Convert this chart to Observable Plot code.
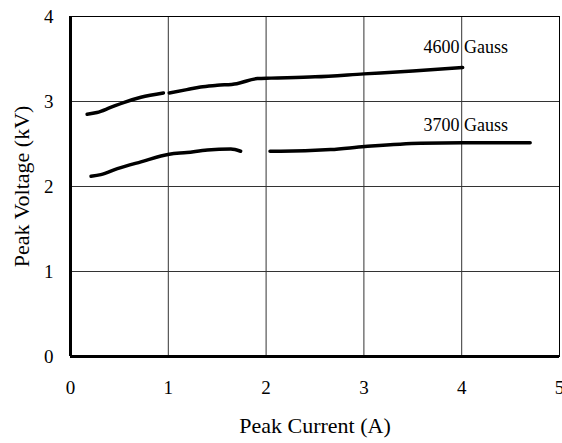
<!DOCTYPE html>
<html>
<head>
<meta charset="utf-8">
<script src="https://cdn.jsdelivr.net/npm/d3@7"></script>
<script src="https://cdn.jsdelivr.net/npm/@observablehq/plot@0.6"></script>
<style>
  html, body { margin: 0; padding: 0; background: #fff; }
</style>
</head>
<body>
<div id="chart"></div>
<script>
// 4600 Gauss curve (two segments with a gap)
const x4600a = [0.17, 0.27, 0.41, 0.55, 0.72, 0.95];
const y4600a = [2.85, 2.87, 2.93, 2.99, 3.05, 3.10];
const x4600b = [1.01, 1.19, 1.33, 1.50, 1.70, 1.91, 2.05, 2.50, 3.00, 3.50, 4.01];
const y4600b = [3.10, 3.14, 3.17, 3.19, 3.21, 3.27, 3.275, 3.29, 3.325, 3.36, 3.40];
// 3700 Gauss curve (two segments with a gap)
const x3700a = [0.21, 0.31, 0.48, 0.72, 1.01, 1.19, 1.40, 1.64, 1.74];
const y3700a = [2.12, 2.14, 2.21, 2.29, 2.38, 2.40, 2.43, 2.44, 2.415];
const x3700b = [2.04, 2.15, 2.66, 3.01, 3.58, 4.01, 4.70];
const y3700b = [2.415, 2.415, 2.435, 2.47, 2.51, 2.515, 2.515];

const labels = ["4600 Gauss", "3700 Gauss"];
const labelX = [3.61, 3.61];
const labelY = [3.64, 2.72];

const xTicks = [0, 1, 2, 3, 4, 5];
const yTicks = [0, 1, 2, 3, 4];

const segs = [
  ["4600a", x4600a, y4600a],
  ["4600b", x4600b, y4600b],
  ["3700a", x3700a, y3700a],
  ["3700b", x3700b, y3700b]
];
const rows = segs.flatMap(([s, xs, ys]) => xs.map((x, i) => ({seg: s, x, y: ys[i]})));
const labelRows = labels.map((t, i) => ({t, x: labelX[i], y: labelY[i]}));
const fmt = d3.format("d");
const FONT = "Liberation Serif";

const chart = Plot.plot({
  width: 562,
  height: 443,
  marginLeft: 70,
  marginRight: 3,
  marginTop: 16,
  marginBottom: 87,
  style: {background: "#fff", color: "#000"},
  x: {domain: [0, 5], ticks: xTicks},
  y: {domain: [0, 4], ticks: yTicks},
  marks: [
    Plot.gridX(xTicks.slice(1, -1), {stroke: "#333", strokeOpacity: 1, strokeWidth: 1}),
    Plot.gridY(yTicks.slice(1, -1), {stroke: "#333", strokeOpacity: 1, strokeWidth: 1}),
    Plot.frame({stroke: "#000", strokeWidth: 1}),
    Plot.ruleX([0], {stroke: "#000", strokeWidth: 3}),
    Plot.ruleY([0], {stroke: "#000", strokeWidth: 3}),
    Plot.axisX(xTicks, {tickSize: 0, tickPadding: 24, label: null, fontSize: 19, fontFamily: FONT, tickFormat: fmt}),
    Plot.axisY(yTicks, {tickSize: 0, tickPadding: 17, label: null, fontSize: 19, fontFamily: FONT, tickFormat: fmt}),
    Plot.line(rows, {x: "x", y: "y", z: "seg", stroke: "#000", strokeWidth: 3.5, curve: "monotone-x"}),
    Plot.text(labelRows, {x: "x", y: "y", text: "t", textAnchor: "start", fontSize: 18, fontFamily: FONT, fill: "#000"}),
    Plot.text(["Peak Current (A)"], {frameAnchor: "bottom", dy: 76, fontSize: 22, fontFamily: FONT, fill: "#000"}),
    Plot.text(["Peak Voltage (kV)"], {frameAnchor: "left", textAnchor: "middle", dx: -49, rotate: -90, fontSize: 22, fontFamily: FONT, fill: "#000"})
  ]
});
chart.setAttribute("font-family", FONT);
chart.querySelectorAll("text").forEach(el => el.setAttribute("font-family", FONT));
document.getElementById("chart").appendChild(chart);
</script>
</body>
</html>
